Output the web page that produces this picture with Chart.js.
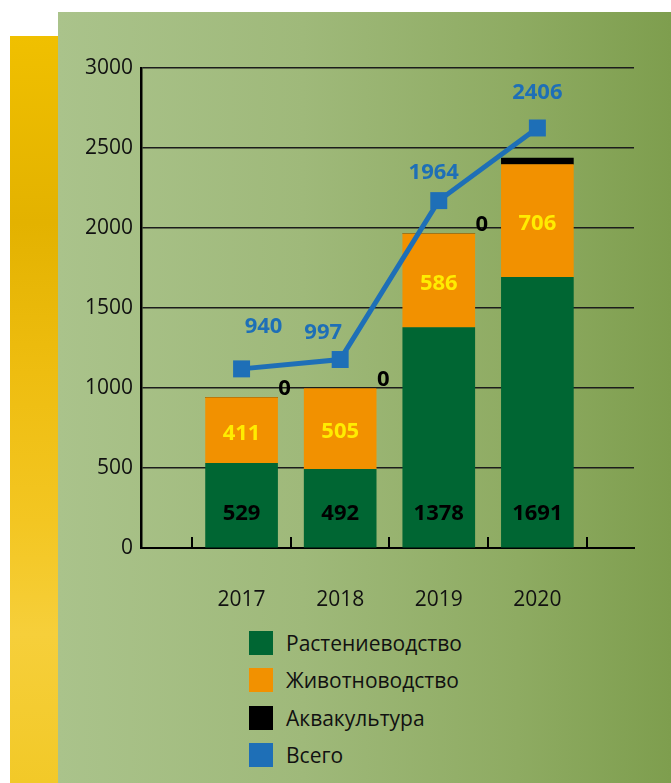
<!DOCTYPE html>
<html lang="ru">
<head>
<meta charset="utf-8">
<title>Chart</title>
<script src="https://cdn.jsdelivr.net/npm/chart.js@4.4.1/dist/chart.umd.min.js"></script>
<style>
  html, body { margin: 0; padding: 0; background: #fff; }
  body { width: 671px; height: 783px; position: relative; overflow: hidden; font-family: 'Open Sans', sans-serif; }
  .strip {
    position: absolute; left: 10px; top: 36px; width: 48px; height: 747px;
    background: linear-gradient(to bottom, #f0c000 0%, #e3b200 25%, #eebd10 45%, #f3c622 65%, #f6cf3a 80%, #f2c928 100%);
  }
  .panel {
    position: absolute; left: 58px; top: 12px; width: 613px; height: 771px;
    background: linear-gradient(to right, #aac38b 0%, #9fb97a 40%, #8eab62 75%, #7e9e4e 100%);
  }
  .chart-box { position: absolute; left: 58px; top: 12px; width: 613px; height: 610px; }
  #legend { position: absolute; left: 249px; top: 631px; list-style: none; margin: 0; padding: 0; }
  #legend li { display: flex; align-items: center; height: 24px; margin-bottom: 13.3px; font-size: 21px; color: #111; }
  #legend .box { width: 24px; height: 24px; margin-right: 13px; }
</style>
</head>
<body>
<div class="strip"></div>
<div class="panel"></div>
<div class="chart-box"><canvas id="chart"></canvas></div>
<ul id="legend"></ul>
<script>
const years = ['2017', '2018', '2019', '2020'];
const crops = [529, 492, 1378, 1691];
const livestock = [411, 505, 586, 706];
const aquaculture = [0, 0, 0, 40];
const totals = [940, 997, 1964, 2406];
const yTicks = [0, 500, 1000, 1500, 2000, 2500, 3000];

const blue = '#1e6fb7';
const font = 'Open Sans';
// where the "Всего" labels sit relative to their points
const totalLabelShift = [[22, -42], [-17, -27], [-5, -28], [0, -35]];

const toPoints = arr => arr.map((v, i) => ({ x: i, y: v }));

const valueLabels = {
  id: 'valueLabels',
  afterDatasetsDraw(chart) {
    const ctx = chart.ctx;
    const yScale = chart.scales.y;
    ctx.save();
    ctx.font = `bold 22px "${font}"`;
    ctx.textAlign = 'center';
    ctx.textBaseline = 'middle';

    chart.getDatasetMeta(0).data.forEach((bar, i) => {
      ctx.fillStyle = '#000';
      ctx.fillText(crops[i], bar.x, yScale.getPixelForValue(0) - 34);
    });
    chart.getDatasetMeta(1).data.forEach((bar, i) => {
      ctx.fillStyle = '#ffec00';
      ctx.fillText(livestock[i], bar.x, (bar.y + bar.base) / 2 + 3);
    });
    chart.getDatasetMeta(2).data.forEach((bar, i) => {
      if (aquaculture[i] !== 0) return;
      ctx.fillStyle = '#000';
      ctx.fillText(aquaculture[i], bar.x + bar.width / 2 + 7, bar.y - 9);
    });
    chart.getDatasetMeta(3).data.forEach((pt, i) => {
      ctx.fillStyle = blue;
      ctx.fillText(totals[i], pt.x + totalLabelShift[i][0], pt.y + totalLabelShift[i][1]);
    });
    ctx.restore();
  }
};

// small tick marks between the years, pointing up into the plot
const innerTicks = {
  id: 'innerTicks',
  afterDraw(chart) {
    const ctx = chart.ctx;
    const xScale = chart.scales.x;
    const bottom = chart.chartArea.bottom;
    const edges = years.map((_, i) => i - 0.5).concat(years.length - 0.5);
    ctx.save();
    ctx.strokeStyle = '#000';
    ctx.lineWidth = 2;
    edges.forEach(v => {
      const px = Math.round(xScale.getPixelForValue(v));
      ctx.beginPath();
      ctx.moveTo(px, bottom);
      ctx.lineTo(px, bottom - 11);
      ctx.stroke();
    });
    ctx.restore();
  }
};

const chart = new Chart(document.getElementById('chart').getContext('2d'), {
  data: {
    datasets: [
      { type: 'bar', label: 'Растениеводство', data: toPoints(crops), backgroundColor: '#006633', barThickness: 72, order: 2 },
      { type: 'bar', label: 'Животноводство', data: toPoints(livestock), backgroundColor: '#f29100', barThickness: 72, order: 2 },
      { type: 'bar', label: 'Аквакультура', data: toPoints(aquaculture), backgroundColor: '#000000', barThickness: 72, order: 2 },
      {
        type: 'line', label: 'Всего', data: toPoints(totals), yAxisID: 'yTotal', order: 1,
        borderColor: blue, backgroundColor: blue, borderWidth: 5, tension: 0,
        pointStyle: 'rect', pointRadius: 12, pointHoverRadius: 12, pointBorderWidth: 0
      }
    ]
  },
  options: {
    responsive: true,
    maintainAspectRatio: false,
    animation: false,
    layout: { padding: { top: 56, right: 37, left: 0, bottom: 0 } },
    plugins: {
      legend: { display: false },
      tooltip: { enabled: false }
    },
    scales: {
      x: {
        type: 'linear', min: -1.02, max: 3.98, stacked: true, offset: false,
        afterBuildTicks: s => { s.ticks = years.map((_, i) => ({ value: i })); },
        afterFit: s => { s.height = 74; },
        grid: { display: false, drawTicks: false },
        border: { display: true, color: '#000', width: 2 },
        ticks: {
          callback: v => years[v],
          font: { family: font, size: 21 }, color: '#111',
          padding: 39, maxRotation: 0, autoSkip: false
        }
      },
      y: {
        min: 0, max: 3000, stacked: true,
        afterBuildTicks: s => { s.ticks = yTicks.map(v => ({ value: v })); },
        afterFit: s => { s.width = 83; },
        grid: { color: '#1c1c1c', lineWidth: 1.5, drawTicks: false },
        border: { display: true, color: '#000', width: 2.5 },
        ticks: {
          callback: v => String(v),
          font: { family: font, size: 21 }, color: '#111', padding: 8
        }
      },
      yTotal: { display: false, min: -150, max: 2771 }
    }
  },
  plugins: [valueLabels, innerTicks]
});

// legend as plain list, one row per series
const legend = document.getElementById('legend');
chart.data.datasets.forEach(ds => {
  const li = document.createElement('li');
  const box = document.createElement('span');
  box.className = 'box';
  box.style.background = ds.backgroundColor;
  li.appendChild(box);
  li.appendChild(document.createTextNode(ds.label));
  legend.appendChild(li);
});
</script>
</body>
</html>
